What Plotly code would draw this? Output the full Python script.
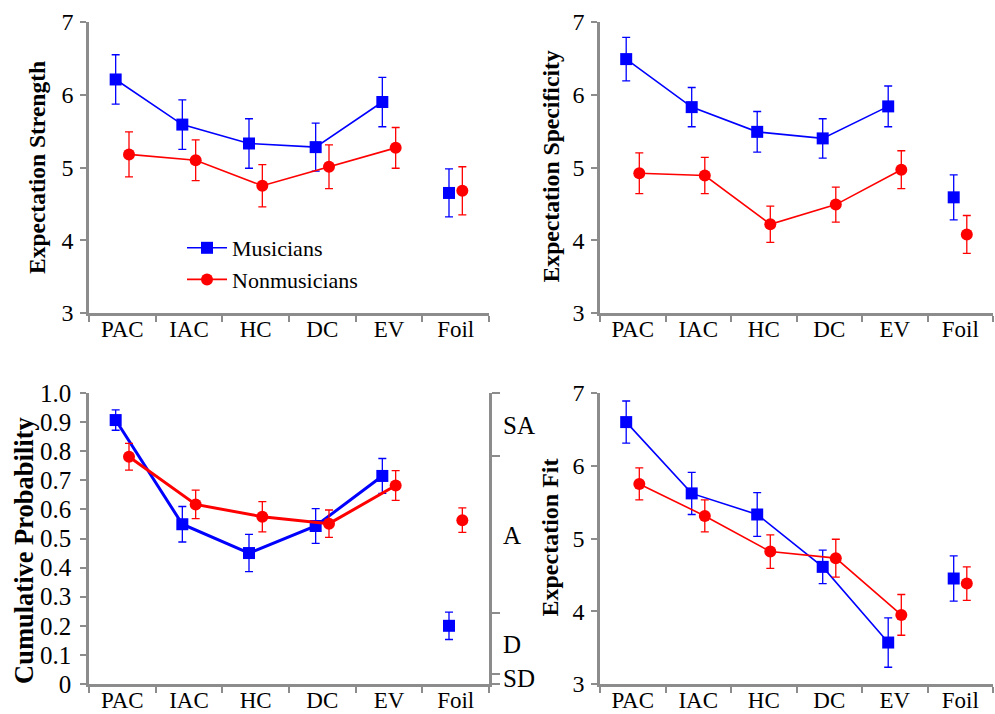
import plotly.graph_objects as go

categories = ["PAC", "IAC", "HC", "DC", "EV", "Foil"]

strength_mus = [6.21, 5.59, 5.33, 5.28, 5.90, 4.65]
strength_mus_err = [0.34, 0.34, 0.34, 0.33, 0.34, 0.33]
strength_non = [5.18, 5.10, 4.75, 5.01, 5.27, 4.68]
strength_non_err = [0.31, 0.28, 0.29, 0.30, 0.28, 0.33]

specificity_mus = [6.49, 5.83, 5.49, 5.40, 5.84, 4.59]
specificity_mus_err = [0.30, 0.27, 0.28, 0.27, 0.28, 0.31]
specificity_non = [4.92, 4.89, 4.22, 4.49, 4.97, 4.08]
specificity_non_err = [0.28, 0.25, 0.25, 0.24, 0.26, 0.26]

cumprob_mus = [0.907, 0.549, 0.450, 0.543, 0.715, 0.200]
cumprob_mus_err = [0.035, 0.061, 0.064, 0.060, 0.060, 0.047]
cumprob_non = [0.781, 0.617, 0.575, 0.551, 0.682, 0.563]
cumprob_non_err = [0.046, 0.049, 0.052, 0.047, 0.051, 0.042]

fit_mus = [6.60, 5.62, 5.33, 4.61, 3.57, 4.45]
fit_mus_err = [0.29, 0.29, 0.30, 0.23, 0.34, 0.31]
fit_non = [5.75, 5.31, 4.82, 4.73, 3.95, 4.38]
fit_non_err = [0.22, 0.22, 0.23, 0.26, 0.28, 0.23]

likert_labels = ["SA", "A", "D", "SD"]
likert_label_pos = [0.89, 0.51, 0.135, 0.018]
likert_ticks = [0.0, 0.034, 0.244, 0.784, 1.0]

BLUE = "#0000FF"
RED = "#FF0000"
GRAY = "#8C8C8C"
FONT = "Liberation Serif"

W, H = 995, 714

def px_x(p):
    return p / W

def px_y(p):
    return 1 - p / H

fig = go.Figure()

n = len(categories)
idx = list(range(n))
mus_x = [i - 0.1 for i in idx]
non_x = [i + 0.1 for i in idx]

panels = [
    ("x", "y", strength_mus, strength_mus_err, strength_non, strength_non_err, 1.6, True),
    ("x2", "y2", specificity_mus, specificity_mus_err, specificity_non, specificity_non_err, 1.6, False),
    ("x3", "y3", cumprob_mus, cumprob_mus_err, cumprob_non, cumprob_non_err, 3.0, False),
    ("x4", "y4", fit_mus, fit_mus_err, fit_non, fit_non_err, 1.6, False),
]

for xa, ya, mv, me, nv, ne, lw, leg in panels:
    for name, xs, vals, errs, col, sym in [
        ("Musicians", mus_x, mv, me, BLUE, "square"),
        ("Nonmusicians", non_x, nv, ne, RED, "circle"),
    ]:
        fig.add_trace(go.Scatter(
            x=xs[:5], y=vals[:5], mode="lines+markers", name=name,
            xaxis=xa, yaxis=ya, showlegend=leg,
            line=dict(color=col, width=lw),
            marker=dict(color=col, size=12, symbol=sym),
            error_y=dict(type="data", array=errs[:5], color=col, thickness=1.3, width=4),
        ))
        fig.add_trace(go.Scatter(
            x=xs[5:], y=vals[5:], mode="markers", name=name,
            xaxis=xa, yaxis=ya, showlegend=False,
            marker=dict(color=col, size=12, symbol=sym),
            error_y=dict(type="data", array=errs[5:], color=col, thickness=1.3, width=4),
        ))

# panel geometry in pixels
left_x = (89, 489)
right_x = (600, 993)
top_y = (22, 313)
bot_y = (393, 684)

def xdom(a):
    return [px_x(a[0]), px_x(a[1])]

def ydom(a):
    return [px_y(a[1]), px_y(a[0])]

def xaxis_cfg(dom, anchor):
    return dict(
        domain=dom, anchor=anchor, range=[-0.5, 5.5], automargin=False,
        tickmode="array", tickvals=idx, ticktext=categories, ticks="",
        ticklabelstandoff=-6,
        showline=True, linecolor=GRAY, linewidth=2.5,
        showgrid=False, zeroline=False,
        tickfont=dict(family=FONT, size=23, color="black"),
        minor=dict(tickmode="array", tickvals=[i - 0.5 for i in range(n + 1)],
                   ticks="outside", ticklen=6, tickwidth=2, tickcolor=GRAY),
        fixedrange=True,
    )

def yaxis_cfg(dom, anchor, rng, tv, tt, fs, so):
    return dict(
        domain=dom, anchor=anchor, range=rng, automargin=False,
        tickmode="array", tickvals=tv, ticktext=tt,
        ticks="outside", ticklen=6, tickwidth=2, tickcolor=GRAY,
        ticklabelstandoff=so,
        showline=True, linecolor=GRAY, linewidth=2.5,
        showgrid=False, zeroline=False,
        tickfont=dict(family=FONT, size=fs, color="black"),
        fixedrange=True,
    )

seven = [3, 4, 5, 6, 7]
seven_t = [str(v) for v in seven]
prob_v = [i / 10 for i in range(11)]
prob_t = ["0"] + ["%.1f" % v for v in prob_v[1:]]

fig.update_layout(
    template="none",
    width=W, height=H,
    margin=dict(l=0, r=0, t=0, b=0, autoexpand=False),
    paper_bgcolor="white", plot_bgcolor="white",
    font=dict(family=FONT, color="black"),
    xaxis=xaxis_cfg(xdom(left_x), "y"),
    yaxis=yaxis_cfg(ydom(top_y), "x", [3, 7], seven, seven_t, 24, 2),
    xaxis2=xaxis_cfg(xdom(right_x), "y2"),
    yaxis2=yaxis_cfg(ydom(top_y), "x2", [3, 7], seven, seven_t, 24, 2),
    xaxis3=xaxis_cfg(xdom(left_x), "y3"),
    yaxis3=yaxis_cfg(ydom(bot_y), "x3", [0, 1], prob_v, prob_t, 25, 4),
    xaxis4=xaxis_cfg(xdom(right_x), "y4"),
    yaxis4=yaxis_cfg(ydom(bot_y), "x4", [3, 7], seven, seven_t, 24, 2),
    yaxis5=dict(
        overlaying="y3", anchor="x3", side="right", range=[0, 1], automargin=False,
        tickmode="array", tickvals=likert_ticks, showticklabels=False,
        ticks="outside", ticklen=8, tickwidth=2, tickcolor=GRAY,
        showline=True, linecolor=GRAY, linewidth=2.5,
        showgrid=False, zeroline=False, fixedrange=True,
    ),
    legend=dict(
        x=px_x(182), y=px_y(227), xanchor="left", yanchor="top",
        bgcolor="rgba(0,0,0,0)", font=dict(family=FONT, size=22, color="black"),
        tracegroupgap=0, itemwidth=40, borderwidth=0,
    ),
    showlegend=True,
)

titles = [
    ("Expectation Strength", 37, 168, 23.5),
    ("Expectation Specificity", 550, 166.5, 23.7),
    ("Cumulative Probability", 24, 551, 26.5),
    ("Expectation Fit", 549, 537.5, 24),
]
for text, cx, cy, fs in titles:
    fig.add_annotation(
        text="<b>%s</b>" % text, x=px_x(cx), y=px_y(cy), xref="paper", yref="paper",
        textangle=-90, showarrow=False, xanchor="center", yanchor="middle",
        font=dict(family=FONT, size=fs, color="black"),
    )

for lab, pos in zip(likert_labels, likert_label_pos):
    fig.add_annotation(
        text=lab, x=px_x(501), y=pos, xref="paper", yref="y5",
        showarrow=False, xanchor="left", yanchor="middle",
        font=dict(family=FONT, size=25, color="black"),
    )

fig.write_html("out.html")
